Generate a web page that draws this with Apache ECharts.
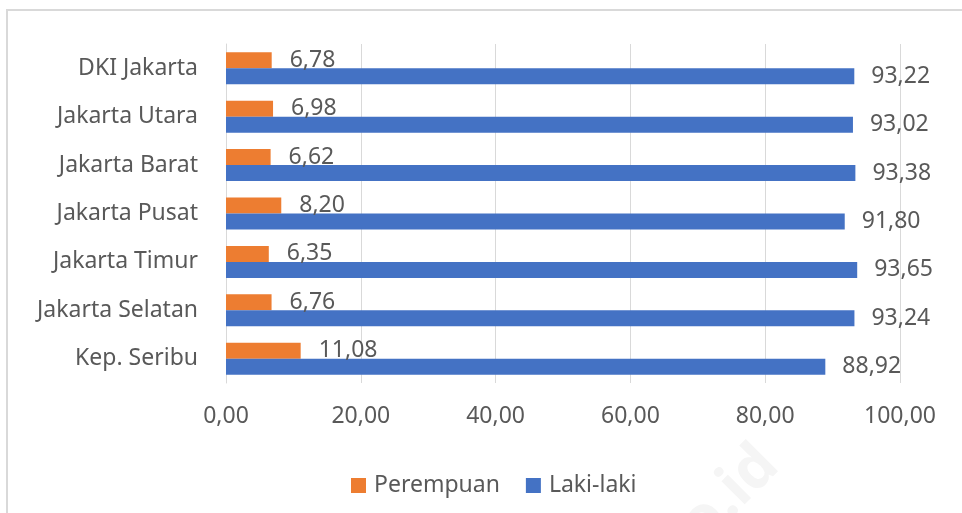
<!DOCTYPE html>
<html>
<head>
<meta charset="utf-8">
<script src="https://cdn.jsdelivr.net/npm/echarts@6/dist/echarts.min.js"></script>
<style>
    html, body { margin: 0; padding: 0; background: #ffffff; }
    #chart { width: 962px; height: 513px; }
</style>
</head>
<body>
<div id="chart"></div>
<script>
// wilayah, urut dari atas ke bawah
const regions = ['DKI Jakarta', 'Jakarta Utara', 'Jakarta Barat', 'Jakarta Pusat', 'Jakarta Timur', 'Jakarta Selatan', 'Kep. Seribu'];
// persentase per jenis kelamin
const perempuan = [6.78, 6.98, 6.62, 8.20, 6.35, 6.76, 11.08];
const lakiLaki = [93.22, 93.02, 93.38, 91.80, 93.65, 93.24, 88.92];
const xTicks = [0, 20, 40, 60, 80, 100];

const FONT = '"Noto Sans", sans-serif';
const TEXT = '#595959';
const FS = 23;

// format angka gaya Indonesia: 6,78
function fmt(v) {
    return Number(v).toFixed(2).replace('.', ',');
}

const chart = echarts.init(document.getElementById('chart'));

chart.setOption({
    animation: false,
    backgroundColor: '#ffffff',
    textStyle: { fontFamily: FONT },
    grid: { left: 226, right: 62, top: 44, bottom: 130 },
    legend: {
        data: ['Perempuan', 'Laki-laki'],
        left: 346,
        top: 469,
        icon: 'rect',
        itemWidth: 15,
        itemHeight: 15,
        itemGap: 26,
        textStyle: { fontFamily: FONT, fontSize: FS, color: TEXT, padding: [0, 0, 0, 3] }
    },
    xAxis: {
        type: 'value',
        min: xTicks[0],
        max: xTicks[xTicks.length - 1],
        interval: 20,
        axisLine: { show: false },
        axisTick: { show: false },
        splitLine: { lineStyle: { color: '#D9D9D9', width: 1 } },
        axisLabel: {
            fontFamily: FONT, fontSize: FS, color: TEXT, margin: 22,
            formatter: fmt
        }
    },
    yAxis: {
        type: 'category',
        inverse: true,
        data: regions,
        axisLine: { show: true, lineStyle: { color: '#D9D9D9' } },
        axisTick: { show: false },
        axisLabel: { fontFamily: FONT, fontSize: FS, color: TEXT, margin: 28 }
    },
    series: [
        {
            name: 'Perempuan',
            type: 'bar',
            data: perempuan,
            barWidth: 16,
            barGap: '0%',
            itemStyle: { color: '#ED7D31' },
            label: {
                show: true, position: 'right', distance: 18,
                fontFamily: FONT, fontSize: FS, color: TEXT,
                formatter: p => fmt(p.value)
            }
        },
        {
            name: 'Laki-laki',
            type: 'bar',
            data: lakiLaki,
            barWidth: 16,
            barGap: '0%',
            itemStyle: { color: '#4472C4' },
            label: {
                show: true, position: 'right', distance: 17,
                fontFamily: FONT, fontSize: FS, color: TEXT,
                formatter: p => fmt(p.value)
            }
        }
    ],
    graphic: [
        {
            type: 'rect',
            shape: { x: 7, y: 10, width: 1000, height: 600 },
            style: { fill: 'none', stroke: '#D9D9D9', lineWidth: 2 },
            z: -10
        },
        {
            type: 'text',
            x: 730, y: 495,
            rotation: Math.PI / 4,
            style: {
                text: 'o.id', fontFamily: FONT, fontWeight: 'bold', fontSize: 60,
                fill: '#F5F5F5', textAlign: 'center', textVerticalAlign: 'middle'
            },
            z: -5
        }
    ]
});
</script>
</body>
</html>
